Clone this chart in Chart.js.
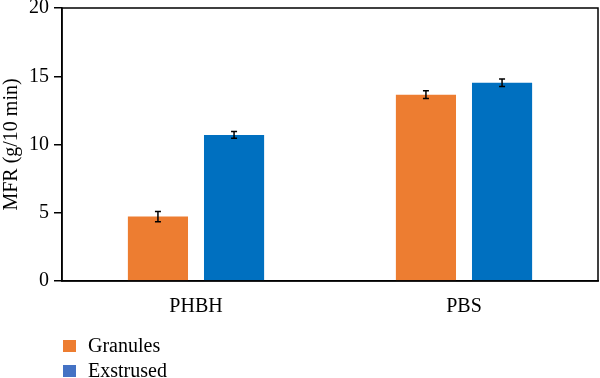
<!DOCTYPE html>
<html>
<head>
<meta charset="utf-8">
<script src="https://cdn.jsdelivr.net/npm/chart.js@4"></script>
<style>
  html, body { margin: 0; padding: 0; background: #ffffff; }
  #wrap { position: relative; width: 600px; height: 378px; }
  #legend { position: absolute; left: 63px; top: 333px; font-family: "Liberation Serif", "DejaVu Serif", serif; font-size: 20px; color: #000; }
  #legend div { height: 25px; line-height: 25px; display: flex; align-items: center; }
  #legend span.box { display: inline-block; width: 13px; height: 12px; margin-right: 12px; }
</style>
</head>
<body>
<div id="wrap">
  <canvas id="chart" width="600" height="378"></canvas>
  <div id="legend"></div>
</div>
<script>
const categories = ["PHBH", "PBS"];
const seriesNames = ["Granules", "Exstrused"];
const granules = [4.72, 13.65];
const granulesErr = [0.38, 0.28];
const extruded = [10.7, 14.52];
const extrudedErr = [0.25, 0.28];
const barColors = ["#ED7D31", "#0070C0"];
const legendColors = ["#ED7D31", "#4472C4"];
const yTicks = [0, 5, 10, 15, 20];

const fontFamily = "'Liberation Serif', 'DejaVu Serif', serif";

const errorBars = {
    id: "errorBars",
    afterDatasetsDraw(chart) {
        const { ctx, scales } = chart;
        ctx.save();
        ctx.strokeStyle = "#000000";
        ctx.lineWidth = 1.5;
        chart.data.datasets.forEach((ds, i) => {
            const meta = chart.getDatasetMeta(i);
            meta.data.forEach((bar, j) => {
                const v = ds.data[j];
                const e = ds.errors[j];
                const yTop = scales.y.getPixelForValue(v + e);
                const yBot = scales.y.getPixelForValue(v - e);
                ctx.beginPath();
                ctx.moveTo(bar.x, yTop);
                ctx.lineTo(bar.x, yBot);
                ctx.moveTo(bar.x - 3, yTop);
                ctx.lineTo(bar.x + 3, yTop);
                ctx.moveTo(bar.x - 3, yBot);
                ctx.lineTo(bar.x + 3, yBot);
                ctx.stroke();
            });
        });
        ctx.restore();
    },
};

const frame = {
    id: "frame",
    afterDraw(chart) {
        const { ctx, chartArea } = chart;
        ctx.save();
        ctx.strokeStyle = "#000000";
        ctx.lineWidth = 1.5;
        ctx.strokeRect(chartArea.left, chartArea.top, chartArea.right - chartArea.left, chartArea.bottom - chartArea.top);
        ctx.restore();
    },
};

const ctx = document.getElementById("chart").getContext("2d");

new Chart(ctx, {
    type: "bar",
    data: {
        labels: categories,
        datasets: [
            {
                label: seriesNames[0],
                data: granules,
                errors: granulesErr,
                backgroundColor: barColors[0],
                barPercentage: 0.79,
                categoryPercentage: 0.568,
            },
            {
                label: seriesNames[1],
                data: extruded,
                errors: extrudedErr,
                backgroundColor: barColors[1],
                barPercentage: 0.79,
                categoryPercentage: 0.568,
            },
        ],
    },
    options: {
        responsive: false,
        animation: false,
        layout: {
            padding: { top: 8, right: 2, bottom: 53, left: 0 },
        },
        scales: {
            x: {
                grid: { display: false },
                border: { color: "#000000", width: 1.5 },
                ticks: {
                    color: "#000000",
                    font: { family: fontFamily, size: 20 },
                    padding: 6,
                },
                afterFit: (axis) => {
                    axis.paddingLeft = 0;
                    axis.paddingRight = 0;
                },
            },
            y: {
                min: 0,
                max: 20,
                afterBuildTicks: (axis) => {
                    axis.ticks = yTicks.map((v) => ({ value: v }));
                },
                afterFit: (axis) => {
                    axis.paddingTop = 0;
                    axis.paddingBottom = 0;
                },
                grid: {
                    drawOnChartArea: false,
                    color: "#000000",
                    tickLength: 8,
                    lineWidth: 1.5,
                },
                border: { color: "#000000", width: 1.5 },
                ticks: {
                    color: "#000000",
                    font: { family: fontFamily, size: 20 },
                    padding: 5,
                },
                title: {
                    display: true,
                    text: "MFR (g/10 min)",
                    color: "#000000",
                    font: { family: fontFamily, size: 20 },
                    padding: { top: 0, bottom: 0 },
                },
            },
        },
        plugins: {
            legend: { display: false },
            tooltip: { enabled: false },
        },
    },
    plugins: [errorBars, frame],
});

const legend = document.getElementById("legend");
seriesNames.forEach((name, i) => {
    const row = document.createElement("div");
    const box = document.createElement("span");
    box.className = "box";
    box.style.background = legendColors[i];
    row.appendChild(box);
    row.appendChild(document.createTextNode(name));
    legend.appendChild(row);
});
</script>
</body>
</html>
